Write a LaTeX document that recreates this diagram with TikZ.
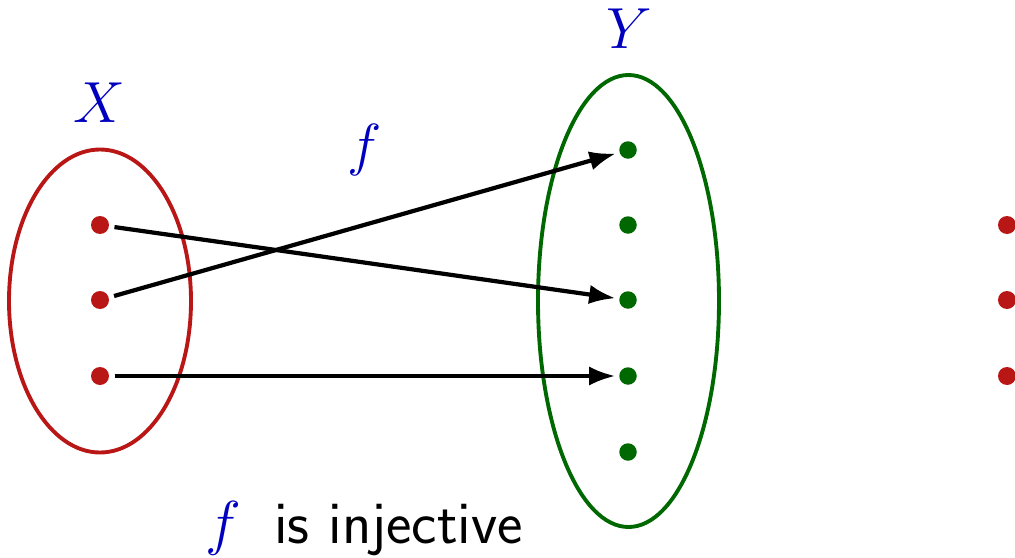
\RequirePackage{fix-cm}
\documentclass[tikz,border=0pt]{standalone}
\usepackage{fontspec}
\usetikzlibrary{arrows.meta}
\definecolor{myred}{RGB}{185,22,22}
\definecolor{mygreen}{RGB}{0,104,0}
\definecolor{myblue}{RGB}{0,0,190}
\begin{document}
\begin{tikzpicture}[x=0.02cm,y=-0.02cm,
  rdot/.style={circle,fill=myred,inner sep=0pt,minimum size=0.36cm},
  gdot/.style={circle,fill=mygreen,inner sep=0pt,minimum size=0.35cm},
  lab/.style={text=myblue,font=\fontsize{33}{40}\selectfont},
  arr/.style={-{Latex[length=15pt,width=11pt]},line width=2.4pt,shorten <=3pt,shorten >=2pt}]
\useasboundingbox (0,0) rectangle (1015,558);
\clip (0,0) rectangle (1015,558);
\draw[myred,line width=2.2pt] (100,301) ellipse [x radius=91,y radius=151.5];
\draw[mygreen,line width=2.2pt] (628.5,301) ellipse [x radius=90.5,y radius=226];
\node[rdot] (x1) at (100,225) {};
\node[rdot] (x2) at (100,300) {};
\node[rdot] (x3) at (100,376) {};
\node[gdot] (y1) at (628,150) {};
\node[gdot] (y2) at (628,225) {};
\node[gdot] (y3) at (628,300) {};
\node[gdot] (y4) at (628,376) {};
\node[gdot] (y5) at (628,452) {};
\node[rdot] (z1) at (1007,225) {};
\node[rdot] (z2) at (1007,300) {};
\node[rdot] (z3) at (1007,376) {};
\node[lab] (X) at (99,103) {$X$};
\node[lab] (Y) at (629,29) {$Y$};
\node[lab] (f) at (365,150) {$f$};
\draw[arr] (x1) -- (y3);
\draw[arr] (x2) -- (y1);
\draw[arr] (x3) -- (y4);
\node[anchor=base west,inner sep=0pt,font=\fontsize{34.5}{42}\selectfont\sffamily] (cap) at (205,543) {\textcolor{myblue}{$f$}\hspace{0.55em}is injective};
\end{tikzpicture}
\end{document}
